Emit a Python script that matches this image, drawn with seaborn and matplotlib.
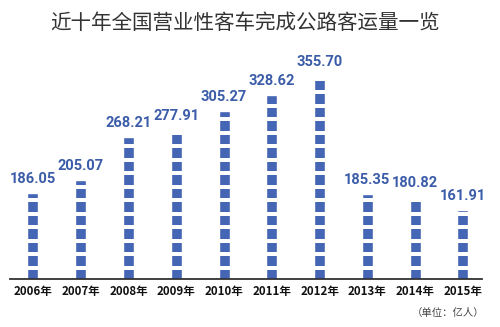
import matplotlib
matplotlib.use("Agg")
import matplotlib.pyplot as plt
import seaborn as sns
import pandas as pd
import numpy as np

years = ["2006年", "2007年", "2008年", "2009年", "2010年",
         "2011年", "2012年", "2013年", "2014年", "2015年"]
passengers = [186.05, 205.07, 268.21, 277.91, 305.27,
              328.62, 355.70, 185.35, 180.82, 161.91]
title = "近十年全国营业性客车完成公路客运量一览"
unit_note = "（单位：亿人）"

sns.set_theme(style="white")
plt.rcParams["font.family"] = ["Noto Sans CJK SC", "DejaVu Sans"]

df = pd.DataFrame({"year": years, "value": passengers})

bar_color = "#4566b4"
fig = plt.figure(figsize=(5.0, 3.27), dpi=100)
ax = fig.add_axes([10 / 500, 48 / 327, 472 / 500, 229 / 327])

sns.barplot(data=df, x="year", y="value", color=bar_color, width=0.23,
            saturation=1, ax=ax, zorder=2)

y_base, y_top = 62, 393.4
ax.set_ylim(y_base, y_top)
ax.set_xlim(-0.481, 9.398)

# cut the bars into stacked blocks with white gaps
pitch, gap = 19.5, 5.8
k = 0
while y_base + k * pitch < y_top:
    lo = y_base + k * pitch + (pitch - gap)
    ax.axhspan(lo, lo + gap, color="white", lw=0, zorder=3)
    k += 1

for i, v in enumerate(passengers):
    ax.annotate(f"{v:.2f}", xy=(i, v), xytext=(0, 5), textcoords="offset points",
                ha="center", va="bottom", color="#3b5ca8", fontsize=10.5,
                fontweight="bold", fontstretch="condensed",
                family=["Roboto", "DejaVu Sans"], zorder=5)

ax.set_xlabel("")
ax.set_ylabel("")
ax.set_yticks([])
ax.tick_params(axis="x", length=0, pad=4)
ax.set_xticks(range(len(years)))
ax.set_xticklabels(years, fontsize=8.3, fontweight="bold", color="#111111")

for side in ["top", "left", "right"]:
    ax.spines[side].set_visible(False)
ax.spines["bottom"].set_color("#333333")
ax.spines["bottom"].set_linewidth(1.3)
ax.spines["bottom"].set_zorder(6)

fig.text(245 / 500, 1 - 23 / 327, title, ha="center", va="center",
         fontsize=14.8, color="#333333")
fig.text(484 / 500, 1 - 313 / 327, unit_note, ha="right", va="center",
         fontsize=7.5, color="#444444")

fig.savefig("out.png", dpi=100)
